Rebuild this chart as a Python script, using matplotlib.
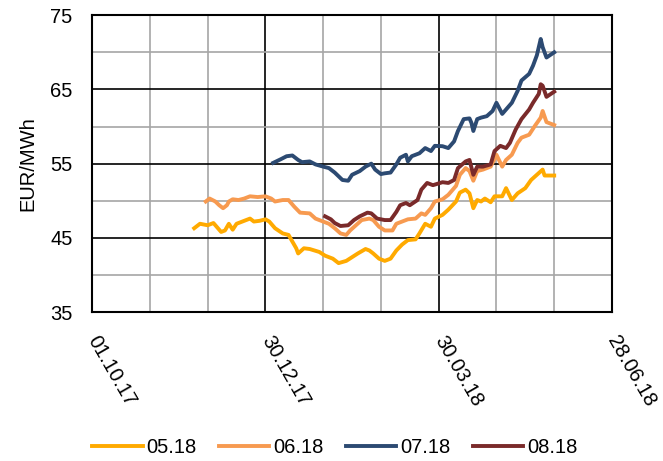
import matplotlib
matplotlib.use("Agg")
import matplotlib.pyplot as plt
import matplotlib.dates as mdates
import matplotlib.transforms as mtransforms
import pandas as pd

plt.rcParams['font.family'] = ['Liberation Sans', 'DejaVu Sans']

start = pd.Timestamp("2017-10-01")

# day offsets from 01.10.17 and prices (EUR/MWh)
days_0518 = [53, 56, 60, 63, 67, 69, 71, 73, 75, 78, 82, 84, 87, 90, 92, 95, 99, 102, 106, 107,
             110, 113, 118, 121, 125, 128, 132, 135, 138, 142, 144, 146, 149, 152, 155, 158, 161,
             164, 168, 170, 173, 176, 178, 182, 185, 189, 191, 194, 196, 198, 200, 202, 204, 207,
             209, 213, 215, 218, 221, 225, 228, 231, 234, 235, 240]
vals_0518 = [46.3, 46.9, 46.7, 47.0, 45.8, 46.0, 46.9, 46.1, 46.9, 47.2, 47.6, 47.2, 47.3, 47.5, 47.2,
             46.3, 45.6, 45.4, 43.6, 42.9, 43.6, 43.5, 43.1, 42.6, 42.2, 41.6, 41.9, 42.4, 42.9, 43.5,
             43.3, 42.9, 42.2, 41.9, 42.2, 43.3, 44.1, 44.7, 44.8, 45.6, 46.9, 46.5, 47.6, 48.1, 48.8,
             49.9, 51.1, 51.5, 51.0, 49.0, 50.1, 49.9, 50.3, 49.8, 50.6, 50.6, 51.7, 50.1, 51.0, 51.7,
             52.8, 53.5, 54.2, 53.4, 53.4]

days_0618 = [59, 61, 64, 66, 68, 70, 71, 73, 76, 79, 82, 86, 90, 93, 95, 99, 102, 105, 108, 113,
             116, 120, 123, 126, 129, 132, 134, 137, 140, 144, 146, 149, 152, 156, 158, 161, 164,
             168, 171, 173, 176, 178, 182, 185, 189, 191, 194, 196, 198, 200, 203, 207, 210, 213,
             215, 218, 221, 223, 227, 230, 233, 234, 236, 240]
vals_0618 = [49.9, 50.3, 49.9, 49.4, 49.0, 49.4, 49.9, 50.2, 50.1, 50.3, 50.6, 50.5, 50.6, 50.3, 49.9,
             50.1, 50.1, 49.2, 48.4, 48.3, 47.6, 47.2, 46.9, 46.3, 45.6, 45.4, 46.0, 46.7, 47.4, 47.6,
             47.4, 46.5, 46.0, 46.0, 46.9, 47.2, 47.5, 47.6, 48.3, 48.1, 49.0, 49.9, 50.2, 50.8, 52.0,
             53.5, 54.4, 54.0, 52.7, 54.0, 54.2, 54.6, 56.2, 54.6, 55.5, 56.2, 57.8, 58.5, 58.9, 60.1,
             61.2, 62.1, 60.6, 60.2]

days_0718 = [94, 98, 101, 104, 107, 109, 113, 116, 120, 123, 126, 130, 133, 135, 139, 142, 145, 147,
             150, 152, 155, 158, 160, 163, 164, 166, 170, 173, 176, 178, 182, 185, 188, 190, 193,
             196, 197, 198, 200, 202, 205, 208, 210, 213, 215, 218, 221, 223, 227, 229, 231, 233,
             234, 236, 240]
vals_0718 = [55.1, 55.6, 56.0, 56.1, 55.5, 55.2, 55.3, 54.9, 54.6, 54.4, 53.8, 52.8, 52.7, 53.5, 54.0,
             54.6, 55.0, 54.2, 53.6, 53.7, 53.8, 54.9, 55.8, 56.2, 55.3, 56.0, 56.4, 57.1, 56.7, 57.4,
             57.35, 57.1, 58.0, 59.4, 61.0, 61.1, 60.5, 59.4, 61.0, 61.2, 61.4, 62.1, 63.2, 61.7, 62.3,
             63.2, 64.8, 66.2, 67.1, 68.2, 69.6, 71.8, 70.7, 69.3, 70.0]

days_0818 = [121, 124, 126, 129, 133, 136, 139, 143, 145, 148, 152, 155, 158, 160, 163, 165, 169,
             171, 174, 177, 182, 185, 188, 190, 194, 196, 198, 200, 203, 207, 209, 212, 215, 217,
             220, 223, 227, 229, 232, 233, 234, 236, 240]
vals_0818 = [47.9, 47.5, 47.0, 46.6, 46.7, 47.4, 47.9, 48.4, 48.3, 47.6, 47.4, 47.4, 48.5, 49.4, 49.7,
             49.4, 50.1, 51.5, 52.4, 52.1, 52.5, 52.4, 52.8, 54.4, 55.3, 55.5, 53.5, 54.6, 54.6, 54.9,
             56.7, 57.4, 57.1, 57.8, 59.6, 61.0, 62.3, 63.2, 64.4, 65.7, 65.5, 64.0, 64.7]

labels = ["05.18", "06.18", "07.18", "08.18"]
colors = ["#FFAA00", "#F79A50", "#2C4A72", "#7A2A2A"]

fig = plt.figure(figsize=(6.63, 4.61), dpi=100)
ax = fig.add_axes([0.139, 0.323, 0.784, 0.644])

series = [(days_0518, vals_0518), (days_0618, vals_0618), (days_0718, vals_0718), (days_0818, vals_0818)]
for (d, v), lab, c in zip(series, labels, colors):
    x = start + pd.to_timedelta(d, unit="D")
    ax.plot(x, v, color=c, lw=2.8, label=lab, zorder=3)

ax.set_xlim(start, start + pd.Timedelta(days=270))
ax.set_ylim(35, 75)

major_x = [start + pd.Timedelta(days=i) for i in range(0, 271, 90)]
minor_x = [start + pd.Timedelta(days=i) for i in range(30, 270, 30) if i % 90]
ax.set_xticks(major_x)
ax.set_xticks(minor_x, minor=True)
ax.xaxis.set_major_formatter(mdates.DateFormatter("%d.%m.%y"))
ax.set_yticks([35, 45, 55, 65, 75])
ax.set_yticks([40, 50, 60, 70], minor=True)

ax.grid(which="major", color="black", lw=1.2)
ax.grid(which="minor", color="#A6A6A6", lw=1.2)
ax.set_axisbelow(True)
for s in ax.spines.values():
    s.set_linewidth(1.5)

ax.tick_params(which="both", length=0)
ax.tick_params(axis="y", labelsize=14.5, pad=14)
ax.tick_params(axis="x", labelsize=14.5, pad=15)
shift = mtransforms.ScaledTranslation(6 / 72, 0, fig.dpi_scale_trans)
for t in ax.get_xticklabels():
    t.set_rotation(-60)
    t.set_ha("left")
    t.set_va("top")
    t.set_rotation_mode("anchor")
    t.set_transform(t.get_transform() + shift)

ax.set_ylabel("EUR/MWh", fontsize=14.5, labelpad=9)

fig.legend(loc="center", bbox_to_anchor=(0.505, 0.03), ncol=4, frameon=False,
           fontsize=14.5, handlelength=2.5, handletextpad=0.2, columnspacing=1.1)

fig.savefig("out.png", dpi=100)
